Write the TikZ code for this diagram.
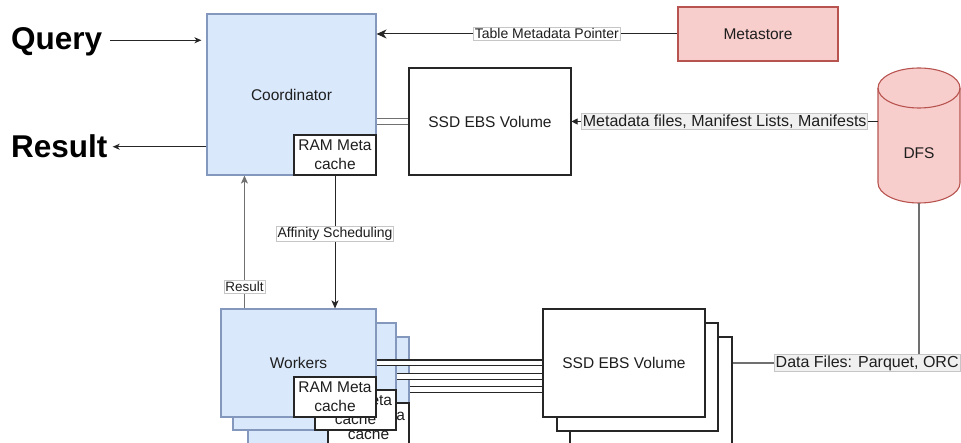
\documentclass[tikz,border=0pt]{standalone}
\usepackage{fontspec}
\setmainfont{Liberation Sans}
\usetikzlibrary{arrows.meta}

\definecolor{bluefill}{HTML}{DAE8FC}
\definecolor{blueline}{HTML}{8497BC}
\definecolor{redfill}{HTML}{F8CECC}
\definecolor{redline}{HTML}{B85450}
\definecolor{wire}{HTML}{262626}
\definecolor{wiregray}{HTML}{707070}
\definecolor{ink}{HTML}{1E1E1E}

\newcommand\boxfont{\fontsize{15.5}{19}\selectfont}
\newcommand\smalllbl{\fontsize{14}{16}\selectfont}
\newcommand\largelbl{\fontsize{16}{18}\selectfont}
\newcommand\bigword{\fontsize{31.5}{34}\selectfont\bfseries}

\tikzset{
  bluebox/.style={draw=blueline, fill=bluefill, line width=1.1pt, inner sep=0pt,
    font=\boxfont, text=ink},
  whitebox/.style={draw=wire, fill=white, line width=1.1pt, inner sep=0pt,
    font=\boxfont, text=ink, align=center},
  redbox/.style={draw=redline, fill=redfill, line width=1.1pt, inner sep=0pt,
    font=\boxfont, text=ink},
  bigtext/.style={font=\bigword, text=black, anchor=base west, inner sep=0pt},
  lbl/.style={fill=white, draw=gray!45, line width=0.5pt, inner sep=1.2pt,
    font=\smalllbl, text=ink},
  lblgray/.style={lbl, fill=black!6, font=\largelbl},
  link/.style={draw=wire, line width=1.1pt, double=white, double distance=4.8pt},
  arrowline/.style={draw=wire, line width=1pt,
    -{Stealth[length=10pt, width=9pt, inset=3pt]}},
  smallarrow/.style={draw=wire, line width=1pt,
    -{Stealth[length=7pt, width=6pt, inset=2pt]}},
  tinyarrow/.style={draw=wire, line width=1pt,
    -{Triangle[length=6pt, width=6pt]}},
  plainline/.style={draw=wiregray, line width=1.1pt},
}

\begin{document}
\begin{tikzpicture}[x=1pt, y=-1pt]
\useasboundingbox (0,0) rectangle (961,443);
\clip (0,0) rectangle (961,443);

% ---------- coordinator side ----------
\node[bluebox, minimum width=169, minimum height=161] (coord) at (291.5,94.5) {Coordinator};
\node[whitebox, minimum width=82, minimum height=40] (c0) at (335,155) {RAM Meta\\cache};

\node[redbox, minimum width=160, minimum height=54] (meta) at (758,34) {Metastore};

\node[whitebox, minimum width=162, minimum height=107] (ssd) at (490,121.5) {SSD EBS Volume};

% ---------- DFS cylinder ----------
\node[minimum width=82, minimum height=136, inner sep=0pt] (dfs) at (919,135) {};
\filldraw[draw=redline, fill=redfill, line width=1.1pt]
  (878,88) -- (878,183) arc[start angle=180, end angle=0, x radius=41, y radius=20]
  -- (960,88) arc[start angle=0, end angle=-180, x radius=41, y radius=20] -- cycle;
\draw[redline, line width=1.1pt]
  (878,88) arc[start angle=180, end angle=0, x radius=41, y radius=20];
\node[font=\boxfont, text=ink] (dfstext) at (919,153) {DFS};

% ---------- worker stack (back to front; the last layer runs off the page) ----------
\node[bluebox, minimum width=161, minimum height=112] (w3) at (328.5,393) {};
\node[whitebox, minimum width=81, minimum height=44] (c3) at (368.5,425) {RAM Meta\\cache};
\node[bluebox, minimum width=163, minimum height=107] (w2) at (314.5,376.5) {};
\node[whitebox, minimum width=81, minimum height=40] (c2) at (355.5,410) {RAM Meta\\cache};
\node[bluebox, minimum width=155, minimum height=108] (w1) at (298.5,363) {Workers};
\node[whitebox, minimum width=82, minimum height=40] (c1) at (335,397) {RAM Meta\\cache};

% ---------- volume stack (back to front) ----------
\node[whitebox, minimum width=162, minimum height=112] (v3) at (651,393) {};
\node[whitebox, minimum width=161, minimum height=108] (v2) at (637.5,377) {};
\node[whitebox, minimum width=162, minimum height=108] (v1) at (624,363) {SSD EBS Volume};

% ---------- query / result ----------
\node[bigtext] (query) at (11,50) {Query};
\node[bigtext] (result) at (11,158) {Result};

\coordinate (qout) at ([yshift=2pt]query.east);
\draw[smallarrow, shorten <=8pt, shorten >=5pt] (qout) -- (coord.west |- qout);
\draw[smallarrow, shorten >=5pt] (coord.west |- result.east) -- (result.east);

% ---------- connectors ----------
\coordinate (w3port) at ([yshift=-53pt]w3.north east);
\draw[link, draw=wiregray] (coord.east |- ssd.west) -- (ssd.west);
\draw[link] (w1.east) -- (v1.west |- w1.east);
\draw[link] (w2.east) -- (v1.west |- w2.east);
\draw[link] (w3port) -- (v1.west |- w3port);

\draw[arrowline] (meta.west) -- (coord.east |- meta.west)
  node[lbl, pos=0.434] (tmp) {Table Metadata Pointer};

\draw[tinyarrow] (dfs.west |- ssd.east) -- (ssd.east)
  node[lblgray, pos=0.5] (mfl) {Metadata files, Manifest Lists, Manifests};

\draw[plainline] (dfs.south) |- (v3.east |- v1.east)
  node[lblgray, pos=0.639] (dfl) {Data Files: Parquet, ORC};

\coordinate (upx) at ([xshift=24pt]w1.north west);
\draw[smallarrow, draw=wiregray, -{Stealth[length=8pt, width=7pt, inset=2pt]}]
  (upx) -- (upx |- coord.south) node[lbl, font=\fontsize{13.5}{16}\selectfont, pos=0.163] (res) {Result};
\draw[smallarrow, -{Stealth[length=8pt, width=7pt, inset=2pt]}]
  (c0.south) -- (c0.south |- w1.north) node[lbl, pos=0.44] (aff) {Affinity Scheduling};
\end{tikzpicture}
\end{document}
